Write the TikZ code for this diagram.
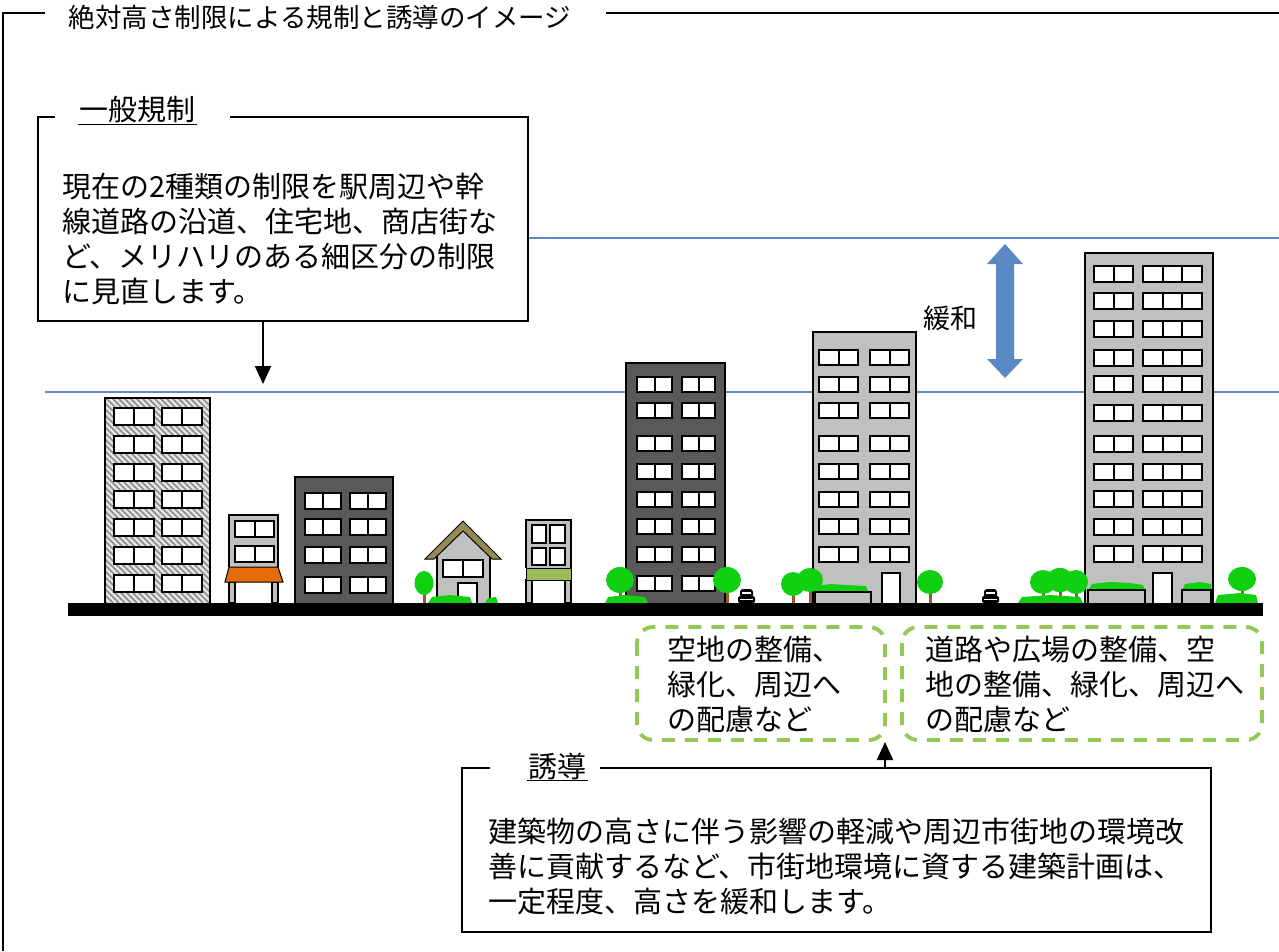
\documentclass[tikz,border=0pt]{standalone}
\usepackage{fontspec}
\newfontfamily\jp{Noto Sans CJK JP}
\usetikzlibrary{arrows.meta}
\definecolor{skyblue}{HTML}{5A89C4}
\definecolor{darkbldg}{HTML}{595959}
\definecolor{lightbldg}{HTML}{C0C0C0}
\definecolor{hatchbg}{HTML}{E6E6E6}
\definecolor{hatchln}{HTML}{8C8C8C}
\definecolor{awning}{HTML}{E46C0A}
\definecolor{band}{HTML}{9BBB59}
\definecolor{roof}{HTML}{948A54}
\definecolor{leaf}{HTML}{11D011}
\definecolor{trunk}{HTML}{9A5A2A}
\definecolor{dashgreen}{HTML}{92C853}

% window helpers: x, y (top), width, height
\newcommand\twopane[4]{%
  \draw[winbox] (#1,#2) rectangle ++(#3,#4);
  \draw[winbox] (#1+#3/2,#2) -- ++(0,#4);}
\newcommand\threepane[4]{%
  \draw[winbox] (#1,#2) rectangle ++(#3,#4);
  \draw[winbox] (#1+#3/3,#2) -- ++(0,#4);
  \draw[winbox] (#1+2*#3/3,#2) -- ++(0,#4);}
% street tree: x, canopy centre y, radius x, radius y
\newcommand\streettree[4]{%
  \fill[trunk] (#1-1.5,#2) rectangle (#1+1.5,603);
  \fill[leaf] (#1,#2) ellipse [x radius=#3, y radius=#4];}
% small car seen from the front: left x
\newcommand\smallcar[1]{%
  \fill[black,rounded corners=3] (#1+2,598) rectangle (#1+15,589);
  \fill[black,rounded corners=1.5] (#1,603) rectangle (#1+17,596);
  \fill[white] (#1+4,594) rectangle (#1+13,592);
  \fill[white] (#1+2,599.5) rectangle (#1+15,598.5);}

\begin{document}
\begin{tikzpicture}[x=1pt,y=-1pt,
  frame/.style={line width=2.6pt,black},
  thinframe/.style={line width=1.3pt,black},
  winbox/.style={line width=2pt,black,fill=white},
  bldg/.style={line width=2.4pt,black},
  jptext/.style={font=\jp\fontsize{29}{35}\selectfont,align=left,inner sep=0pt,anchor=west},
  jplabel/.style={font=\jp\fontsize{29}{35}\selectfont,inner sep=0pt},
  dashbox/.style={line width=3.8pt,dashgreen,rounded corners=16pt,dash pattern=on 13pt off 10pt},
  tipped/.style={-{Triangle[length=18pt,width=16pt]}}]
\useasboundingbox (0,0) rectangle (1279,951);

% outer frame and title
\draw[thinframe] (45,13) -- (3,13) -- (3,951);
\draw[thinframe] (606,13) -- (1279,13);
\node[font=\jp\fontsize{26.5}{30}\selectfont,inner sep=0pt] (title) at (320,17) {絶対高さ制限による規制と誘導のイメージ};

% height limit lines
\draw[skyblue,line width=2.6pt] (45,392) -- (1279,392);
\draw[skyblue,line width=2.6pt] (527,238) -- (1279,238);

% relaxation arrow
\fill[skyblue] (1005,244) -- (1023,264) -- (1014,264) -- (1014,359) -- (1023,359)
  -- (1005,378) -- (987,359) -- (996,359) -- (996,264) -- (987,264) -- cycle;
\node[jplabel,font=\jp\fontsize{27}{30}\selectfont] (relax) at (950,318) {緩和};

% general regulation box
\draw[frame] (55,117) -- (38,117) -- (38,321) -- (528,321) -- (528,117) -- (230,117);
\node[jplabel] (genlabel) at (137,110) {一般規制};
\draw[line width=1pt] (78,124) -- (197,124);
\node[jptext] (gentext) at (62,239) {現在の2種類の制限を駅周辺や幹\\線道路の沿道、住宅地、商店街な\\ど、メリハリのある細区分の制限\\に見直します。};
\coordinate (genfoot) at (263,321);
\coordinate (gentip) at (263,384);
\draw[frame,line width=2pt,tipped] (genfoot) -- (gentip);

% hatched tower
\fill[hatchbg] (105,398) rectangle (210,603);
\begin{scope}
  \clip (105,398) rectangle (210,603);
  \foreach \s in {-110,-104,...,215}
    \draw[hatchln,line width=1.6pt] (\s,398) -- (\s+205,603);
\end{scope}
\draw[bldg] (105,603) -- (105,398) -- (210,398) -- (210,603);
\foreach \r in {408,436,464,491,519,547,575} {
  \twopane{114}{\r}{40}{17}
  \twopane{162}{\r}{40}{17}
}

% small shop with orange awning
\fill[white] (229,582) rectangle (278,603);
\draw[bldg,fill=lightbldg] (229,567) -- (229,515) -- (278,515) -- (278,567);
\twopane{235}{521}{39}{16}
\twopane{235}{546}{39}{16}
\draw[line width=1.6pt,fill=lightbldg] (229,582) rectangle (235,603);
\draw[line width=1.6pt,fill=lightbldg] (272,582) rectangle (278,603);
\draw[line width=1pt,fill=awning] (229,567) -- (278,567) -- (283,582) -- (225,582) -- cycle;

% dark mid-rise
\draw[bldg,fill=darkbldg] (295,603) -- (295,477) -- (393,477) -- (393,603);
\foreach \r in {493,519,547,577} {
  \twopane{305}{\r}{36}{16}
  \twopane{350}{\r}{36}{16}
}

% house
\draw[line width=1.8pt,fill=lightbldg] (437,603) -- (437,553) -- (463,530) -- (490,553) -- (490,603);
\draw[line width=1pt,fill=roof] (425,559) -- (463,521) -- (501,559) -- (492,559) -- (463,531) -- (434,559) -- cycle;
\twopane{443}{560}{40}{17}
\draw[line width=1.6pt,fill=white] (458,603) -- (458,583) -- (477,583) -- (477,603);

% narrow shop with green band
\fill[white] (526,580) rectangle (571,603);
\draw[bldg,fill=lightbldg] (526,568) -- (526,520) -- (571,520) -- (571,568);
\draw[winbox] (532,525) rectangle (546,543);
\draw[winbox] (550,525) rectangle (565,543);
\draw[winbox] (532,548) rectangle (546,565);
\draw[winbox] (550,548) rectangle (565,565);
\draw[line width=1.6pt,fill=lightbldg] (526,580) rectangle (532,603);
\draw[line width=1.6pt,fill=lightbldg] (565,580) rectangle (571,603);
\draw[line width=1pt,fill=band] (526,568) rectangle (571,580);

% dark tower
\draw[bldg,fill=darkbldg] (626,603) -- (626,363) -- (725,363) -- (725,603);
\foreach \r in {377,403,436,464,492,519,547,576} {
  \twopane{637}{\r}{35}{15}
  \twopane{682}{\r}{33}{15}
}

% light tower with planter
\draw[bldg,fill=lightbldg] (813,603) -- (813,332) -- (916,332) -- (916,603);
\foreach \r in {350,377,403,436,464,492,519,547} {
  \twopane{819}{\r}{39}{15}
  \twopane{870}{\r}{39}{15}
}
\draw[line width=1.6pt,fill=white] (882,603) -- (882,573) -- (900,573) -- (900,603);
\fill[leaf] (815,593) -- (817,586) -- (830,584) -- (845,585) -- (866,586) -- (869,593) -- cycle;
\draw[line width=1.6pt,fill=lightbldg] (815,603) -- (815,592) -- (871,592) -- (871,603);

% tallest tower with planters
\draw[bldg,fill=lightbldg] (1085,603) -- (1085,253) -- (1213,253) -- (1213,603);
\foreach \r in {266,293,321,350,376,405,436,464,491,519,546} {
  \twopane{1094}{\r}{39}{16}
  \threepane{1143}{\r}{59}{16}
}
\draw[line width=1.6pt,fill=white] (1153,603) -- (1153,573) -- (1172,573) -- (1172,603);
\fill[leaf] (1088,591) -- (1092,584) -- (1110,582) -- (1130,583) -- (1143,585) -- (1145,591) -- cycle;
\fill[leaf] (1182,591) -- (1185,584) -- (1200,582) -- (1211,584) -- (1212,591) -- cycle;
\draw[line width=1.6pt,fill=lightbldg] (1088,603) -- (1088,590) -- (1145,590) -- (1145,603);
\draw[line width=1.6pt,fill=lightbldg] (1182,603) -- (1182,590) -- (1211,590) -- (1211,603);

% street trees and shrubs
\streettree{424}{583}{9.5}{12}
\fill[leaf] (428,603) -- (432,597) -- (450,595) -- (470,597) -- (472,603) -- cycle;
\fill[leaf] (485,603) -- (488,598) -- (496,597) -- (498,603) -- cycle;
\streettree{620}{580}{14}{13}
\fill[leaf] (605,603) -- (608,597) -- (625,595) -- (645,597) -- (648,603) -- cycle;
\streettree{727}{580}{14}{13}
\streettree{793}{584}{12}{12}
\streettree{810}{580}{13}{12}
\streettree{930}{582}{13}{12}
\streettree{1043}{582}{13}{12}
\streettree{1060}{580}{14}{12}
\streettree{1076}{582}{12}{12}
\fill[leaf] (1018,603) -- (1022,597) -- (1050,595) -- (1080,597) -- (1083,603) -- cycle;
\streettree{1242}{579}{14}{12}
\fill[leaf] (1215,603) -- (1218,595) -- (1240,593) -- (1256,595) -- (1258,603) -- cycle;
\smallcar{738}
\smallcar{982}

% ground
\fill[black] (68,603) rectangle (1263,616);

% dashed improvement boxes
\draw[dashbox] (637,627) rectangle (885,740);
\draw[dashbox] (902,627) rectangle (1262,740);
\node[jptext] (lefttext) at (667,684) {空地の整備、\\緑化、周辺へ\\の配慮など};
\node[jptext] (righttext) at (925,684) {道路や広場の整備、空\\地の整備、緑化、周辺へ\\の配慮など};

% guidance box
\draw[frame] (490,768) -- (462,768) -- (462,932) -- (1211,932) -- (1211,768) -- (600,768);
\node[jplabel] (guidlabel) at (557,766) {誘導};
\draw[line width=1pt] (527,780) -- (588,780);
\node[jptext] (guidtext) at (488,866) {建築物の高さに伴う影響の軽減や周辺市街地の環境改\\善に貢献するなど、市街地環境に資する建築計画は、\\一定程度、高さを緩和します。};
\coordinate (guidfoot) at (885,768);
\coordinate (guidtip) at (885,742);
\draw[frame,line width=2pt,tipped] (guidfoot) -- (guidtip);
\end{tikzpicture}
\end{document}
